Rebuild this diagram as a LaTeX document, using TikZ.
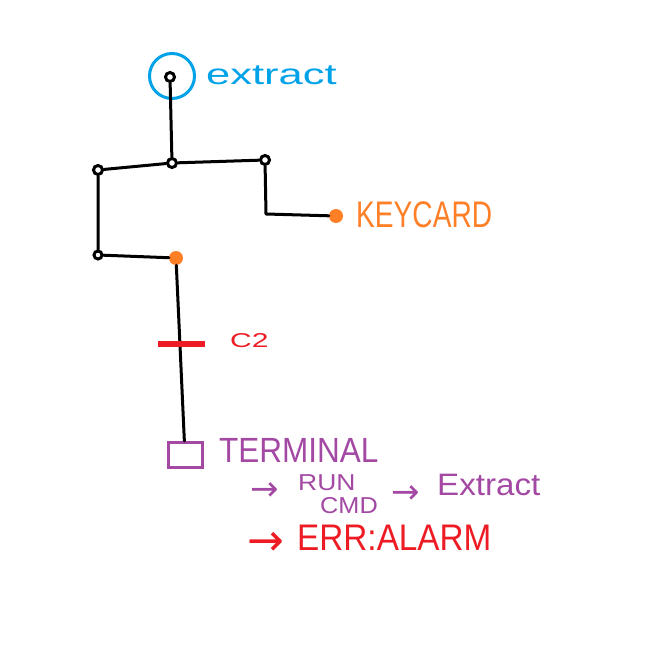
\documentclass[tikz,border=0pt]{standalone}
\usepackage{fontspec}
\setmainfont{Liberation Sans}
\newfontfamily\arrfont{DejaVu Sans}
\definecolor{pblue}{RGB}{0,162,232}
\definecolor{porange}{RGB}{255,127,39}
\definecolor{pred}{RGB}{237,28,36}
\definecolor{ppurple}{RGB}{163,73,164}
\newcommand{\fs}[1]{\fontsize{#1}{#1}\selectfont}
\begin{document}
\begin{tikzpicture}[x=1pt,y=-1pt,
  wire/.style={line width=3pt, line cap=round, line join=round},
  joint/.style={circle, draw, fill=white, line width=3pt, minimum size=9pt, inner sep=0pt},
  odot/.style={circle, fill=porange, minimum size=14pt, inner sep=0pt},
  lbl/.style={anchor=base west, inner sep=0pt}]
\useasboundingbox[fill=white] (0,0) rectangle (662,650);
% nodes
\node[circle, draw=pblue, line width=3pt, minimum size=45pt, inner sep=0pt] (ring) at (172,76) {};
\node[joint] (top) at (170,77) {};
\node[joint] (j1) at (172,163) {};
\node[joint] (jl) at (98,170) {};
\node[joint] (jr) at (265,160) {};
\coordinate (kbend) at (266,214);
\node[odot] (key) at (336,216) {};
\node[joint, minimum size=8pt] (jb) at (98,255) {};
\node[odot] (c2in) at (176,258) {};
\node[draw=ppurple, line width=3pt, minimum width=34pt, minimum height=25pt, inner sep=0pt] (term) at (185,455) {};
% wires
\draw[wire] (top) -- (j1);
\draw[wire] (jl) -- (j1);
\draw[wire] (j1) -- (jr);
\draw[wire] (jr) -- (kbend) -- (key);
\draw[wire] (jl) -- (jb) -- (c2in);
\draw[wire] (c2in) -- (term);
\node[fill=pred, minimum width=47pt, minimum height=6pt, inner sep=0pt] (bar) at (181,344) {};
% labels
\node[lbl, text=pblue, font=\fs{29}] (lextract) at (206,85) {\scalebox{1.5}[1]{extract}};
\node[lbl, text=porange, font=\fs{37}] (lkey) at (356,228) {\scalebox{0.76}[1]{KEYCARD}};
\node[lbl, text=pred, font=\fs{20}] (lc2) at (230,347) {\scalebox{1.5}[1]{C2}};
\node[lbl, text=ppurple, font=\fs{35}] (lterm) at (219,462) {\scalebox{0.9}[1]{TERMINAL}};
\node[lbl, text=ppurple, font=\arrfont\fs{34}] (a1) at (250,500) {→};
\node[lbl, text=ppurple, font=\fs{23}] (lrun) at (298,490) {\scalebox{1.15}[1]{RUN}};
\node[lbl, text=ppurple, font=\fs{23}] (lcmd) at (320,513) {\scalebox{1.1}[1]{CMD}};
\node[lbl, text=ppurple, font=\arrfont\fs{34}] (a2) at (391,503) {→};
\node[lbl, text=ppurple, font=\fs{31}] (lext2) at (437,495) {\scalebox{1.07}[1]{Extract}};
\node[lbl, text=pred, font=\arrfont\fs{44}] (a3) at (247,555) {→};
\node[lbl, text=pred, font=\fs{37}] (lerr) at (297,550) {\scalebox{0.9}[1]{ERR:ALARM}};
\end{tikzpicture}
\end{document}
